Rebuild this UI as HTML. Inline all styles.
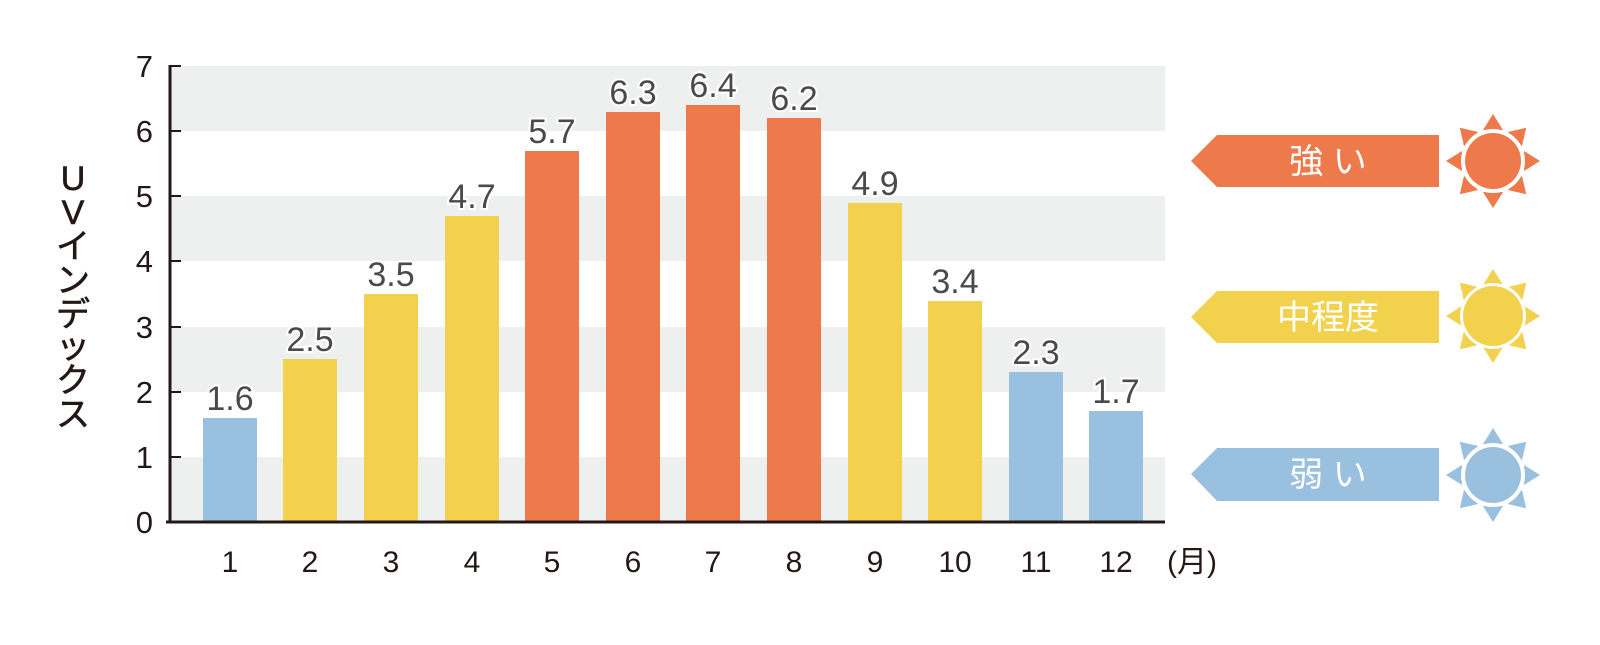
<!DOCTYPE html>
<html><head><meta charset="utf-8"><style>
html,body{margin:0;padding:0;background:#fff;}
</style></head><body>
<svg width="1600" height="640" viewBox="0 0 1600 640" xmlns="http://www.w3.org/2000/svg" font-family="'Liberation Sans','Noto Sans CJK JP',sans-serif">
<g fill="#eeefef">
<rect x="170" y="66" width="995" height="65"/>
<rect x="170" y="196" width="995" height="65"/>
<rect x="170" y="327" width="995" height="65"/>
<rect x="170" y="457" width="995" height="65"/>
</g>
<g>
<rect x="203" y="418" width="54" height="104" fill="#9ac0e0"/>
<rect x="283" y="359" width="54" height="163" fill="#f2d14c"/>
<rect x="364" y="294" width="54" height="228" fill="#f2d14c"/>
<rect x="445" y="216" width="54" height="306" fill="#f2d14c"/>
<rect x="525" y="151" width="54" height="371" fill="#ee7a4b"/>
<rect x="606" y="112" width="54" height="410" fill="#ee7a4b"/>
<rect x="686" y="105" width="54" height="417" fill="#ee7a4b"/>
<rect x="767" y="118" width="54" height="404" fill="#ee7a4b"/>
<rect x="848" y="203" width="54" height="319" fill="#f2d14c"/>
<rect x="928" y="301" width="54" height="221" fill="#f2d14c"/>
<rect x="1009" y="372" width="54" height="150" fill="#9ac0e0"/>
<rect x="1089" y="411" width="54" height="111" fill="#9ac0e0"/>
</g>
<g font-size="34" fill="#4a4a4a" text-anchor="middle" stroke="#fff" stroke-width="4" paint-order="stroke">
<text x="230" y="410">1.6</text>
<text x="310" y="351">2.5</text>
<text x="391" y="286">3.5</text>
<text x="472" y="208">4.7</text>
<text x="552" y="143">5.7</text>
<text x="633" y="104">6.3</text>
<text x="713" y="97">6.4</text>
<text x="794" y="110">6.2</text>
<text x="875" y="195">4.9</text>
<text x="955" y="293">3.4</text>
<text x="1036" y="364">2.3</text>
<text x="1116" y="403">1.7</text>
</g>
<g stroke="#231815" stroke-width="3" fill="none">
<line x1="170" y1="65" x2="170" y2="523"/>
<line x1="166" y1="522" x2="1165" y2="522"/>
</g>
<g stroke="#231815" stroke-width="2">
<line x1="170" y1="66" x2="181" y2="66"/>
<line x1="170" y1="131" x2="181" y2="131"/>
<line x1="170" y1="196" x2="181" y2="196"/>
<line x1="170" y1="261" x2="181" y2="261"/>
<line x1="170" y1="327" x2="181" y2="327"/>
<line x1="170" y1="392" x2="181" y2="392"/>
<line x1="170" y1="457" x2="181" y2="457"/>
</g>
<g font-size="31" fill="#231815" text-anchor="end">
<text x="153" y="77">7</text>
<text x="153" y="142">6</text>
<text x="153" y="207">5</text>
<text x="153" y="272">4</text>
<text x="153" y="338">3</text>
<text x="153" y="403">2</text>
<text x="153" y="468">1</text>
<text x="153" y="533">0</text>
</g>
<g font-size="30" fill="#231815" text-anchor="middle">
<text x="230" y="572">1</text>
<text x="310" y="572">2</text>
<text x="391" y="572">3</text>
<text x="472" y="572">4</text>
<text x="552" y="572">5</text>
<text x="633" y="572">6</text>
<text x="713" y="572">7</text>
<text x="794" y="572">8</text>
<text x="875" y="572">9</text>
<text x="955" y="572">10</text>
<text x="1036" y="572">11</text>
<text x="1116" y="572">12</text>
<text x="1192" y="572">(月)</text>
</g>
<g font-size="34" fill="#231815" text-anchor="middle" stroke="#231815" stroke-width="0.6">
<text x="73" y="190">U</text>
<text x="73" y="224">V</text>
<text x="73" y="258">イ</text>
<text x="73" y="292">ン</text>
<text x="73" y="326">デ</text>
<text x="73" y="358">ッ</text>
<text x="73" y="392">ク</text>
<text x="73" y="426">ス</text>
</g>
<polygon points="1191,161 1217,135 1439,135 1439,187 1217,187" fill="#ee7a4b"/>
<polygon points="1191,317 1217,291 1439,291 1439,343 1217,343" fill="#f2d14c"/>
<polygon points="1191,474 1217,448 1439,448 1439,501 1217,501" fill="#9ac0e0"/>
<g font-size="34" fill="#fff" text-anchor="middle">
<text x="1328" y="173">強 い</text>
<text x="1328" y="329">中程度</text>
<text x="1328" y="486">弱 い</text>
</g>
<defs>
<g id="rays">
<polygon points="0,-47 -10,-31 10,-31"/>
<polygon points="0,-47 -10,-31 10,-31" transform="rotate(45)"/>
<polygon points="0,-47 -10,-31 10,-31" transform="rotate(90)"/>
<polygon points="0,-47 -10,-31 10,-31" transform="rotate(135)"/>
<polygon points="0,-47 -10,-31 10,-31" transform="rotate(180)"/>
<polygon points="0,-47 -10,-31 10,-31" transform="rotate(225)"/>
<polygon points="0,-47 -10,-31 10,-31" transform="rotate(270)"/>
<polygon points="0,-47 -10,-31 10,-31" transform="rotate(315)"/>
</g>
</defs>
<g transform="translate(1493,161)" fill="#ee7a4b"><use href="#rays"/><circle r="32" fill="#fff"/><circle r="28"/></g>
<g transform="translate(1493,316)" fill="#f2d14c"><use href="#rays"/><circle r="33" fill="#fff"/><circle r="30"/></g>
<g transform="translate(1493,475)" fill="#9ac0e0"><use href="#rays"/><circle r="32" fill="#fff"/><circle r="28"/></g>
</svg>
</body></html>
